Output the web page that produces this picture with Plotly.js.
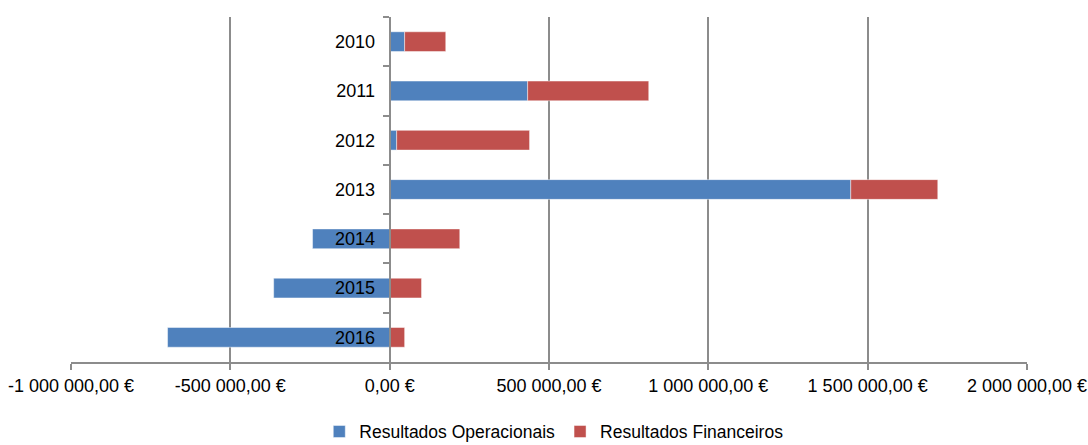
<!DOCTYPE html>
<html>
<head>
<meta charset="utf-8">
<script src="https://cdn.plot.ly/plotly-3.0.1.min.js"></script>
<style>html,body{margin:0;padding:0;background:#fff;}#chart{width:1088px;height:445px;}</style>
</head>
<body>
<div id="chart"></div>
<script>
var years = ['2010','2011','2012','2013','2014','2015','2016'];
var operacionais = [47000, 433000, 22000, 1447000, -242000, -364000, -697000];
var financeiros = [129000, 380000, 417000, 273000, 220000, 100000, 47000];
var xTickVals = [-1000000, -500000, 0, 500000, 1000000, 1500000, 2000000];
var xTickText = ['-1 000 000,00 €', '-500 000,00 €', '0,00 €', '500 000,00 €', '1 000 000,00 €', '1 500 000,00 €', '2 000 000,00 €'];

var FONT = '"Liberation Sans", Arial, sans-serif';
var GRID = '#8c8c8c';

var data = [
  {type:'bar', orientation:'h', name:'Resultados Operacionais', y:years, x:operacionais,
   marker:{color:'#4F81BD', line:{color:'rgba(255,255,255,0.45)', width:1}}, width:0.4},
  {type:'bar', orientation:'h', name:'Resultados Financeiros', y:years, x:financeiros,
   marker:{color:'#C0504D', line:{color:'rgba(255,255,255,0.45)', width:1}}, width:0.4}
];

var layout = {
  width:1088, height:445,
  margin:{l:71, r:61, t:17, b:83},
  paper_bgcolor:'#fff', plot_bgcolor:'#fff',
  barmode:'relative',
  font:{family:FONT, size:18, color:'#000'},
  showlegend:true,
  legend:{orientation:'h', x:0.505, xanchor:'center', yref:'container', y:0.03, yanchor:'middle',
          font:{family:FONT, size:17.5, color:'#000'}, itemwidth:30, traceorder:'normal'},
  xaxis:{range:[-1000000, 2000000], tickvals:xTickVals, ticktext:xTickText,
         showgrid:true, gridcolor:GRID, gridwidth:2, zeroline:false,
         showline:true, linecolor:GRID, linewidth:2, automargin:false,
         ticks:'outside', ticklen:6, tickcolor:GRID, tickwidth:2,
         tickfont:{family:FONT, size:18, color:'#000'}, fixedrange:true},
  yaxis:{type:'category', autorange:'reversed', anchor:'free', position:1/3,
         showgrid:false, zeroline:false, showline:true, linecolor:GRID, linewidth:2,
         ticks:'outside', ticklen:6, tickcolor:GRID, tickwidth:2, tickson:'boundaries',
         automargin:false, ticklabelstandoff:10,
         tickfont:{family:FONT, size:18, color:'#000'}, fixedrange:true}
};

Plotly.newPlot('chart', data, layout, {displayModeBar:false, staticPlot:true});
</script>
</body>
</html>
